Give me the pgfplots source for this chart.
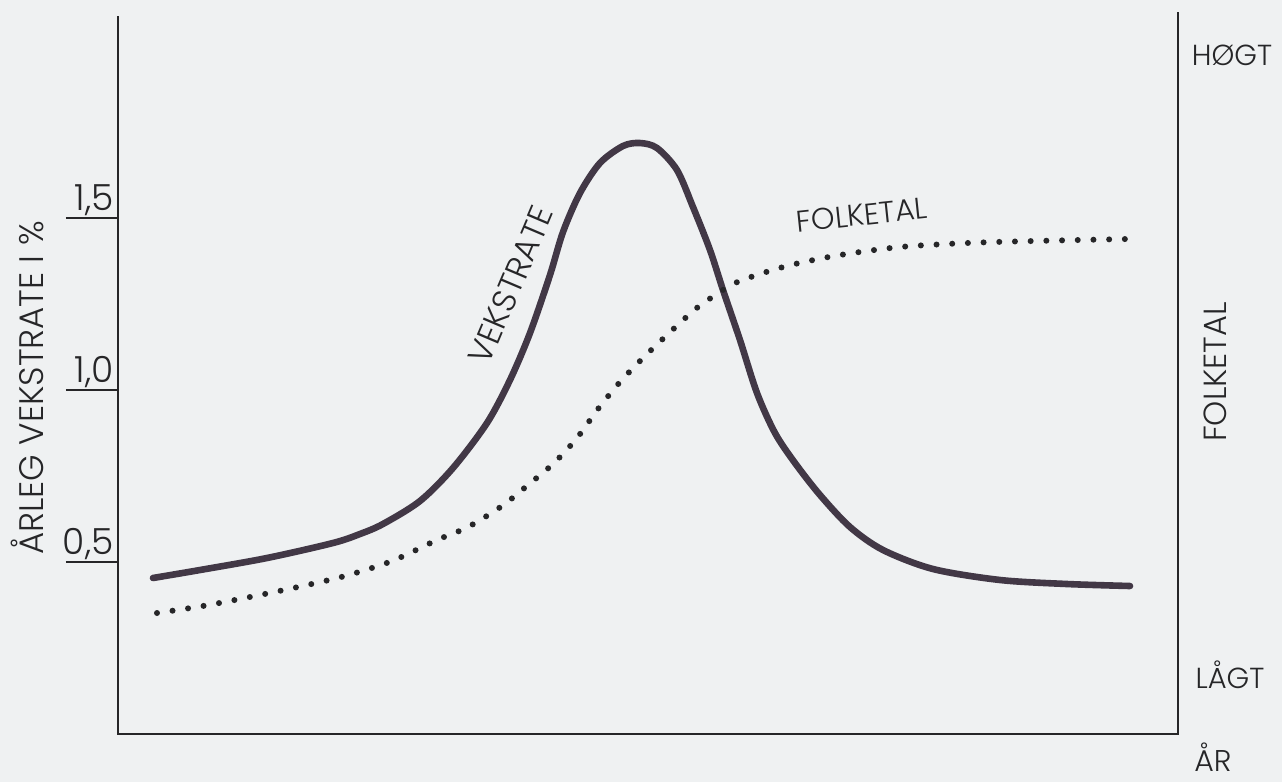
\documentclass[border=0pt]{standalone}
\usepackage{fontspec}
\setmainfont{Poppins}[UprightFont={* Light}]
\usepackage{pgfplots}
\pgfplotsset{compat=1.18}
\definecolor{bg}{RGB}{239,241,242}
\definecolor{curve}{RGB}{66,56,70}
\definecolor{ink}{RGB}{38,38,40}
\tikzset{lbl/.style={text=ink, inner sep=0pt}}
\newcommand{\fs}[1]{\fontsize{#1}{#1}\selectfont}

\pgfplotstableread{
x y
3.5 0.4535
8.2 0.4767
14.9 0.5116
21.5 0.5552
24.2 0.5814
26.5 0.6105
30.2 0.6773
33.5 0.7733
36.9 0.9041
39.2 1.0291
41.2 1.1657
43.2 1.3343
44.5 1.4593
46.2 1.5727
48.2 1.6599
50.5 1.7093
52.2 1.7180
53.9 1.7035
55.9 1.6395
57.5 1.5320
59.2 1.4070
60.5 1.2907
62.2 1.1453
63.9 0.9913
65.7 0.8750
67.7 0.7878
70.2 0.6948
73.2 0.6017
76.5 0.5349
81.5 0.4796
88.2 0.4477
94.9 0.4360
101.2 0.4302
}\vekstrate

\pgfplotstableread{
x y
3.9 0.3517
8.5 0.3721
13.2 0.3983
18.0 0.4273
22.7 0.4593
27.4 0.5029
31.9 0.5640
35.0 0.6017
38.4 0.6628
41.0 0.7238
43.6 0.7878
45.9 0.8605
48.0 0.9448
50.2 1.0233
52.5 1.0930
54.9 1.1599
57.4 1.2267
58.7 1.2558
61.5 1.3081
64.5 1.3401
67.7 1.3663
72.2 1.3924
78.2 1.4157
84.9 1.4273
91.5 1.4331
101.0 1.4390
}\folketal

\begin{document}
\begin{tikzpicture}
\fill[bg] (-59pt,-24pt) rectangle (582pt,367pt);
\begin{axis}[
  at={(0,0)}, anchor=south west,
  scale only axis, width=530pt, height=360.5pt,
  xmin=0, xmax=106, ymin=0, ymax=2.096,
  axis line style={draw=none},
  xtick=\empty,
  ytick={0.5,1,1.5}, yticklabels={{0,5},{1,0},{1,5}},
  ytick pos=left,
  tick align=outside, major tick length=26pt,
  tick style={ink, line width=1.2pt},
  yticklabel style={anchor=base east, xshift=24pt, yshift=4pt, inner sep=0pt,
    font=\fs{18}, text=ink},
  clip=false,
]
\draw[ink, line width=1.2pt] (axis cs:0,2.087) -- (axis cs:0,0) -- (axis cs:106,0) -- (axis cs:106,2.1);
\addplot[curve, line width=3.3pt, line cap=round, smooth] table {\vekstrate};
\addplot[ink, line width=3pt, line cap=round, dash pattern=on 0pt off 7.85pt, smooth] table {\folketal};
\node[lbl, font=\fs{17}, rotate=90] at (axis cs:-9.1,1.006) {ÅRLEG VEKSTRATE I \%};
\node[lbl, font=\fs{16.5}, rotate=67] at (axis cs:39.3,1.305) {VEKSTRATE};
\node[lbl, font=\fs{15}, rotate=6] at (axis cs:74.4,1.509) {FOLKETAL};
\node[lbl, font=\fs{14.5}] at (axis cs:111.4,1.974) {HØGT};
\node[lbl, font=\fs{14.5}] at (axis cs:111.2,0.1715) {LÅGT};
\node[lbl, font=\fs{16}, rotate=90] at (axis cs:109.7,1.052) {FOLKETAL};
\node[lbl, font=\fs{15}] at (axis cs:109.5,-0.066) {ÅR};
\end{axis}
\end{tikzpicture}
\end{document}
